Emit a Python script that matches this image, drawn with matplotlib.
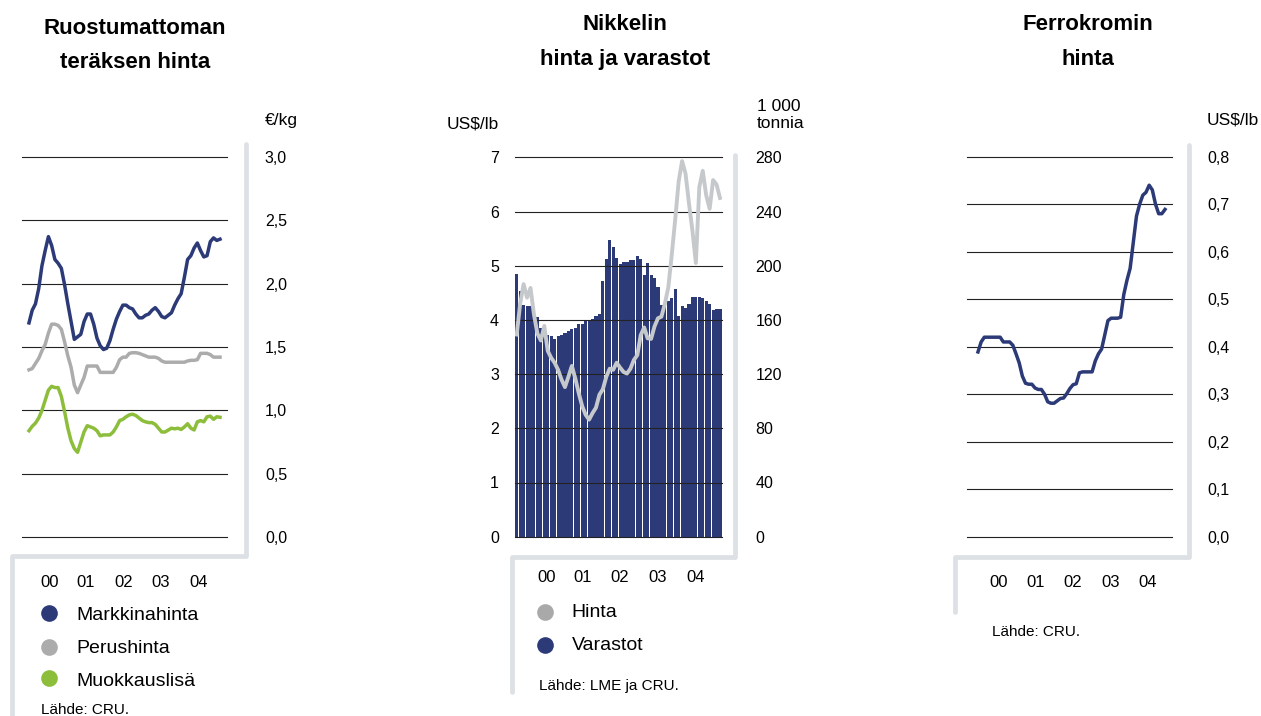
import numpy as np
import matplotlib.pyplot as plt
from matplotlib.lines import Line2D

plt.rcParams['font.family'] = ['Liberation Sans', 'DejaVu Sans']

W, H = 1261, 716  # output size [px]

# monthly data, Jan 2000 - Dec 2004
months = np.arange(60)
years = ['00', '01', '02', '03', '04']

# stainless steel price [EUR/kg]
markkinahinta = [1.69, 1.79, 1.84, 1.96, 2.14, 2.26, 2.37, 2.30, 2.19, 2.16,
                 2.12, 1.99, 1.84, 1.70, 1.56, 1.58, 1.60, 1.70, 1.76, 1.76,
                 1.68, 1.57, 1.51, 1.48, 1.49, 1.55, 1.64, 1.72, 1.78, 1.83,
                 1.83, 1.81, 1.80, 1.76, 1.73, 1.73, 1.75, 1.76, 1.79, 1.81,
                 1.78, 1.74, 1.73, 1.75, 1.77, 1.83, 1.88, 1.92, 2.05, 2.19,
                 2.22, 2.28, 2.32, 2.26, 2.21, 2.22, 2.33, 2.36, 2.34, 2.35]
perushinta = [1.32, 1.33, 1.37, 1.41, 1.47, 1.52, 1.61, 1.68, 1.68, 1.67,
              1.64, 1.54, 1.43, 1.34, 1.20, 1.14, 1.20, 1.26, 1.35, 1.35,
              1.35, 1.35, 1.30, 1.30, 1.30, 1.30, 1.30, 1.34, 1.40, 1.42,
              1.42, 1.45, 1.455, 1.455, 1.45, 1.44, 1.43, 1.42, 1.42, 1.42,
              1.41, 1.39, 1.38, 1.38, 1.38, 1.38, 1.38, 1.38, 1.38, 1.39,
              1.395, 1.395, 1.40, 1.45, 1.45, 1.45, 1.44, 1.42, 1.42, 1.42]
muokkauslisa = [0.84, 0.875, 0.90, 0.94, 1.00, 1.08, 1.16, 1.19, 1.18, 1.18,
                1.11, 0.99, 0.86, 0.76, 0.70, 0.67, 0.75, 0.83, 0.88, 0.87,
                0.86, 0.84, 0.80, 0.807, 0.807, 0.807, 0.83, 0.87, 0.92, 0.93,
                0.95, 0.965, 0.97, 0.96, 0.94, 0.92, 0.91, 0.904, 0.904, 0.89,
                0.86, 0.83, 0.83, 0.845, 0.86, 0.855, 0.86, 0.85, 0.87, 0.895,
                0.86, 0.846, 0.91, 0.92, 0.91, 0.95, 0.955, 0.93, 0.95, 0.946]

# nickel price [US$/lb] and LME stocks [1000 t]
nikkeli_hinta = [3.73, 4.30, 4.66, 4.41, 4.59, 4.10, 3.75, 3.62, 3.89, 3.43,
                 3.30, 3.21, 3.08, 2.90, 2.76, 2.95, 3.15, 2.92, 2.65, 2.41,
                 2.25, 2.16, 2.28, 2.38, 2.62, 2.72, 2.95, 3.10, 3.08, 3.21,
                 3.12, 3.04, 3.01, 3.10, 3.26, 3.35, 3.72, 3.86, 3.66, 3.65,
                 3.88, 4.03, 4.06, 4.30, 4.60, 5.20, 5.85, 6.55, 6.93, 6.70,
                 6.15, 5.65, 5.05, 6.45, 6.75, 6.30, 6.05, 6.58, 6.50, 6.25]
nikkeli_varastot = [194, 181, 171, 170, 170, 169, 162, 154, 152, 149,
                    148, 146, 148, 149, 150, 152, 153, 154, 157, 157,
                    159, 160, 161, 163, 164, 189, 205, 219, 214, 206,
                    201, 203, 203, 204, 204, 207, 205, 193, 202, 193,
                    191, 184, 171, 171, 174, 176, 183, 163, 170, 169,
                    172, 177, 177, 177, 176, 174, 172, 167, 168, 168]

# ferrochrome price [US$/lb]
ferrokromi = [0.389, 0.41, 0.42, 0.42, 0.42, 0.42, 0.42, 0.42, 0.41, 0.41,
              0.41, 0.403, 0.385, 0.366, 0.338, 0.323, 0.321, 0.321, 0.313, 0.31,
              0.31, 0.30, 0.284, 0.281, 0.281, 0.286, 0.291, 0.292, 0.301, 0.312,
              0.32, 0.322, 0.345, 0.347, 0.347, 0.347, 0.347, 0.37, 0.385, 0.395,
              0.425, 0.455, 0.46, 0.46, 0.46, 0.462, 0.51, 0.54, 0.565, 0.62,
              0.675, 0.70, 0.719, 0.725, 0.74, 0.73, 0.70, 0.68, 0.68, 0.689]

steel_ticks = [0, 0.5, 1.0, 1.5, 2.0, 2.5, 3.0]
steel_labels = ['0,0', '0,5', '1,0', '1,5', '2,0', '2,5', '3,0']
nickel_ticks = [0, 1, 2, 3, 4, 5, 6, 7]
stock_ticks = [0, 40, 80, 120, 160, 200, 240, 280]
fecr_ticks = [0, 0.1, 0.2, 0.3, 0.4, 0.5, 0.6, 0.7, 0.8]
fecr_labels = ['0,0', '0,1', '0,2', '0,3', '0,4', '0,5', '0,6', '0,7', '0,8']

# colors
navy = '#2c3a78'
gray = '#acacac'
green = '#8cbe3c'
nickel_gray = '#c6c9cc'
frame_c = '#dde0e4'
grid_c = '#222222'

fig = plt.figure(figsize=(W / 100, H / 100), dpi=100)


def fx(x):
    return x / W


def fy(y):
    return 1 - y / H


def panel(x0, y0, x1, y1):
    ax = fig.add_axes([fx(x0), fy(y1), (x1 - x0) / W, (y1 - y0) / H])
    for s in ax.spines.values():
        s.set_visible(False)
    return ax


def frame(pts):
    fig.add_artist(Line2D([fx(p[0]) for p in pts], [fy(p[1]) for p in pts],
                          color=frame_c, lw=3.4, solid_joinstyle='round',
                          solid_capstyle='round'))


def legend_dot(x, y, c):
    fig.add_artist(Line2D([fx(x)], [fy(y)], marker='o', markersize=12,
                          color=c, markeredgewidth=0))


# ---------- panel 1: stainless steel ----------
ax1 = panel(21.7, 156.7, 226.7, 537.3)
for t in steel_ticks:
    ax1.axhline(t, color=grid_c, lw=0.8, zorder=1, clip_on=False)
ax1.plot(months, perushinta, color=gray, lw=2.5, zorder=3)
ax1.plot(months, muokkauslisa, color=green, lw=2.5, zorder=3)
ax1.plot(months, markkinahinta, color=navy, lw=2.5, zorder=3)
ax1.set_xlim(-2.25, 61.07)
ax1.set_ylim(0, 3)
ax1.yaxis.tick_right()
ax1.set_yticks(steel_ticks, steel_labels)
ax1.tick_params(axis='y', length=0, pad=27.5, labelsize=11.5)
ax1.set_xticks([6.5, 17.6, 29.3, 40.8, 52.5], years)
ax1.tick_params(axis='x', length=0, pad=27, labelsize=12)

fig.text(fx(135), fy(34), 'Ruostumattoman', ha='center', va='baseline',
         fontsize=16, fontweight='bold')
fig.text(fx(135), fy(68.5), 'teräksen hinta', ha='center', va='baseline',
         fontsize=16, fontweight='bold')
fig.text(fx(265), fy(125), '€/kg', ha='left', va='baseline', fontsize=12.5)
frame([(246, 144), (246, 556), (12, 556), (12, 730)])

legend_dot(49, 612.7, navy)
legend_dot(49, 646.7, gray)
legend_dot(49, 678.3, green)
fig.text(fx(76), fy(620), 'Markkinahinta', va='baseline', fontsize=14)
fig.text(fx(76), fy(653.3), 'Perushinta', va='baseline', fontsize=14)
fig.text(fx(76), fy(685.7), 'Muokkauslisä', va='baseline', fontsize=14)
fig.text(fx(40.7), fy(714), 'Lähde: CRU.', va='baseline', fontsize=11)

# ---------- panel 2: nickel ----------
ax2 = panel(515, 157.3, 721.7, 536.7)
ax2p = ax2.twinx()
for s in ax2p.spines.values():
    s.set_visible(False)
ax2.bar(months, nikkeli_varastot, width=0.9, color=navy, zorder=1)
for t in stock_ticks:
    ax2.axhline(t, color=grid_c, lw=0.8, zorder=2, clip_on=False)
ax2.set_ylim(0, 280)
ax2.set_xlim(-0.5, 59.5)
ax2.yaxis.tick_right()
ax2.set_yticks(stock_ticks)
ax2.tick_params(axis='y', length=0, pad=24.5, labelsize=11.5)
ax2.set_xticks([8.7, 19, 30, 41, 52], years)
ax2.tick_params(axis='x', length=0, pad=24, labelsize=12)

ax2p.plot(months, nikkeli_hinta, color=nickel_gray, lw=2.8, zorder=3)
ax2p.set_ylim(0, 7)
ax2p.yaxis.tick_left()
ax2p.set_yticks(nickel_ticks)
ax2p.tick_params(axis='y', length=0, pad=11.5, labelsize=11.5)

fig.text(fx(625), fy(29.5), 'Nikkelin', ha='center', va='baseline',
         fontsize=16, fontweight='bold')
fig.text(fx(625), fy(65), 'hinta ja varastot', ha='center', va='baseline',
         fontsize=16, fontweight='bold')
fig.text(fx(499), fy(129), 'US$/lb', ha='right', va='baseline', fontsize=12.5)
fig.text(fx(757), fy(111), '1 000', ha='left', va='baseline', fontsize=12.5)
fig.text(fx(757), fy(128), 'tonnia', ha='left', va='baseline', fontsize=12.5)
frame([(735, 155), (735, 557), (512, 557), (512, 692)])

legend_dot(545, 611.7, '#a9a9a9')
legend_dot(545, 645, navy)
fig.text(fx(571.7), fy(617.3), 'Hinta', va='baseline', fontsize=14)
fig.text(fx(571.7), fy(650), 'Varastot', va='baseline', fontsize=14)
fig.text(fx(539.3), fy(690), 'Lähde: LME ja CRU.', va='baseline', fontsize=11)

# ---------- panel 3: ferrochrome ----------
ax3 = panel(966.7, 156.7, 1172.3, 536.7)
for t in fecr_ticks:
    ax3.axhline(t, color=grid_c, lw=0.8, zorder=1, clip_on=False)
ax3.plot(months, ferrokromi, color=navy, lw=2.5, zorder=3)
ax3.set_xlim(-3.56, 61.3)
ax3.set_ylim(0, 0.8)
ax3.yaxis.tick_right()
ax3.set_yticks(fecr_ticks, fecr_labels)
ax3.tick_params(axis='y', length=0, pad=25.5, labelsize=11.5)
ax3.set_xticks([6.6, 18.3, 30, 42, 53.6], years)
ax3.tick_params(axis='x', length=0, pad=27.5, labelsize=12)

fig.text(fx(1088), fy(29.5), 'Ferrokromin', ha='center', va='baseline',
         fontsize=16, fontweight='bold')
fig.text(fx(1088), fy(65), 'hinta', ha='center', va='baseline',
         fontsize=16, fontweight='bold')
fig.text(fx(1207), fy(124), 'US$/lb', ha='left', va='baseline', fontsize=12.5)
frame([(1189, 145), (1189, 557), (955, 557), (955, 612)])
fig.text(fx(991.7), fy(636), 'Lähde: CRU.', va='baseline', fontsize=11)

fig.savefig('out.png', dpi=100)
